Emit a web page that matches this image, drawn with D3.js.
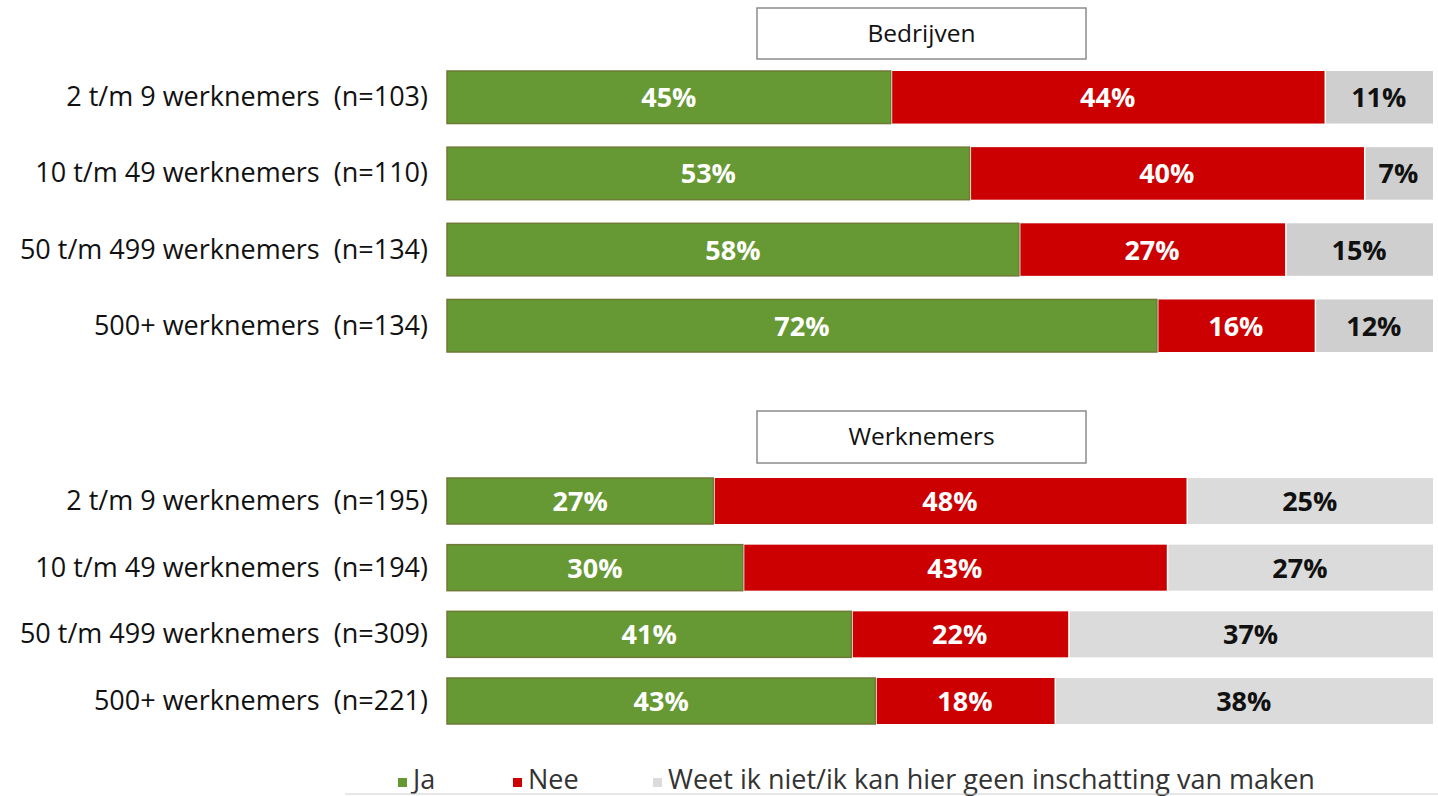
<!DOCTYPE html>
<html>
<head>
<meta charset="utf-8">
<script src="https://cdn.jsdelivr.net/npm/d3@7"></script>
<style>
  body { margin: 0; background: #fff; }
  svg { display: block; font-family: "Open Sans", "Noto Sans", sans-serif; }
  .lbl { white-space: pre; }
</style>
</head>
<body>
<div id="canvas"></div>
<script>
// categories + values
var rowsBedrijven = ['2 t/m 9 werknemers  (n=103)', '10 t/m 49 werknemers  (n=110)',
                     '50 t/m 499 werknemers  (n=134)', '500+ werknemers  (n=134)'];
var jaBedrijven   = [45, 53, 58, 72];
var neeBedrijven  = [44, 40, 27, 16];
var weetBedrijven = [11, 7, 15, 12];

var rowsWerknemers = ['2 t/m 9 werknemers  (n=195)', '10 t/m 49 werknemers  (n=194)',
                      '50 t/m 499 werknemers  (n=309)', '500+ werknemers  (n=221)'];
var jaWerknemers   = [27, 30, 41, 43];
var neeWerknemers  = [48, 43, 22, 18];
var weetWerknemers = [25, 27, 37, 38];

var seriesNames = ['Ja', 'Nee', 'Weet ik niet/ik kan hier geen inschatting van maken'];
var colors = ['#669933', '#cc0000', '#d6d6d6'];
var textColors = ['#fff', '#fff', '#111'];

var W = 1438, H = 796;

var svg = d3.select('#canvas').append('svg')
    .attr('width', W)
    .attr('height', H);

// 100% stacked -> shares 0..1
var scaleX = d3.scaleLinear().domain([0, 1]).range([447, 1433]);

function buildRows(names, ja, nee, weet) {
  return names.map(function(n, i) {
    var vals = [ja[i], nee[i], weet[i]];
    var tot = d3.sum(vals);
    var acc = 0;
    var segs = vals.map(function(v, k) {
      var s = {k: k, v: v, x0: acc / tot, x1: (acc + v) / tot};
      acc += v;
      return s;
    });
    return {name: n, segs: segs};
  });
}

function drawPanel(title, box, rows, yRange, grey) {
  var g = svg.append('g');

  // title box
  g.append('rect')
    .attr('x', box[0]).attr('y', box[1])
    .attr('width', box[2]).attr('height', box[3])
    .attr('fill', '#fff')
    .attr('stroke', '#8c8c8c')
    .attr('stroke-width', 1.5);
  g.append('text')
    .attr('x', box[0] + box[2] / 2)
    .attr('y', box[1] + box[3] / 2 + 8)
    .attr('text-anchor', 'middle')
    .attr('font-size', 24.5)
    .attr('fill', '#111')
    .text(title);

  var scaleY = d3.scaleBand()
    .domain(rows.map(function(d) { return d.name; }))
    .range(yRange)
    .paddingInner(0.31)
    .paddingOuter(0);

  var row = g.selectAll('.row')
    .data(rows)
    .enter()
    .append('g')
    .attr('class', 'row')
    .attr('transform', function(d) { return 'translate(0,' + scaleY(d.name) + ')'; });

  row.append('text')
    .attr('class', 'lbl')
    .attr('x', 428)
    .attr('y', scaleY.bandwidth() / 2 + 9)
    .attr('text-anchor', 'end')
    .attr('font-size', 27)
    .attr('fill', '#111')
    .text(function(d) { return d.name; });

  var seg = row.selectAll('.seg')
    .data(function(d) { return d.segs; })
    .enter()
    .append('g')
    .attr('class', 'seg');

  seg.append('rect')
    .attr('x', function(d) { return scaleX(d.x0) + (d.k > 0 ? 1.5 : 0); })
    .attr('y', 0)
    .attr('width', function(d) { return scaleX(d.x1) - scaleX(d.x0) - (d.k > 0 ? 1.5 : 0); })
    .attr('height', scaleY.bandwidth())
    .attr('fill', function(d) { return d.k == 2 ? grey : colors[d.k]; })
    .attr('stroke', function(d) { return d.k == 0 ? '#6e7a35' : 'none'; })
    .attr('stroke-width', 1.5);

  seg.append('text')
    .attr('x', function(d) { return (scaleX(d.x0) + scaleX(d.x1)) / 2; })
    .attr('y', scaleY.bandwidth() / 2 + 10)
    .attr('text-anchor', 'middle')
    .attr('font-size', 27)
    .attr('font-weight', 'bold')
    .attr('fill', function(d) { return textColors[d.k]; })
    .text(function(d) { return d.v + '%'; });
}

drawPanel('Bedrijven', [757, 8, 329, 51],
  buildRows(rowsBedrijven, jaBedrijven, neeBedrijven, weetBedrijven), [71, 352], '#cfcfcf');
drawPanel('Werknemers', [757, 411, 329, 52],
  buildRows(rowsWerknemers, jaWerknemers, neeWerknemers, weetWerknemers), [478, 724], '#dbdbdb');

// legend
var legendX = [398, 513, 653];
var legend = svg.append('g').selectAll('g')
  .data(seriesNames)
  .enter()
  .append('g')
  .attr('transform', function(d, i) { return 'translate(' + legendX[i] + ',0)'; });
legend.append('rect')
  .attr('x', 0).attr('y', 778)
  .attr('width', 9).attr('height', 9)
  .attr('fill', function(d, i) { return i == 2 ? '#dbdbdb' : colors[i]; });
legend.append('text')
  .attr('x', 15).attr('y', 789)
  .attr('font-size', 27)
  .attr('fill', '#333')
  .text(function(d) { return d; });

svg.append('line')
  .attr('x1', 345).attr('x2', W)
  .attr('y1', 794).attr('y2', 794)
  .attr('stroke', '#d0d0d0')
  .attr('stroke-width', 1);
</script>
</body>
</html>
